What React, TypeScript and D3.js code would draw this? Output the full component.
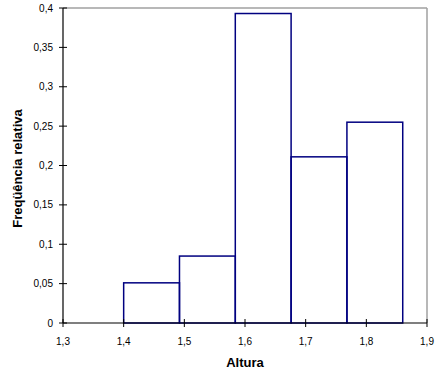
import React from "react";
import * as d3 from "d3";

const binEdges = [1.4, 1.492, 1.584, 1.676, 1.768, 1.86];
const relFreq = [0.051, 0.085, 0.393, 0.211, 0.255];
const xTicks = [1.3, 1.4, 1.5, 1.6, 1.7, 1.8, 1.9];
const yTicks = [0, 0.05, 0.1, 0.15, 0.2, 0.25, 0.3, 0.35, 0.4];
const xTitle = "Altura";
const yTitle = "Freqüência relativa";

const W = 436, H = 375;
const L = 63, R = 427, T = 8, B = 323;

const fmt = (v: number) => String(+v.toFixed(2)).replace(".", ",");

export default function App() {
  const x = d3.scaleLinear().domain([1.3, 1.9]).range([L, R]);
  const y = d3.scaleLinear().domain([0, 0.4]).range([B, T]);
  const font = "'Liberation Sans', Arial, sans-serif";
  return (
    <svg width={W} height={H} style={{ position: "absolute", left: 0, top: 0, background: "#fff" }} fontFamily={font}>
      <rect x={0} y={0} width={W} height={H} fill="#fff" />
      {/* plot frame top & right */}
      <line x1={L} x2={R} y1={T} y2={T} stroke="#a0a0a0" strokeWidth={1.5} />
      <line x1={R} x2={R} y1={T} y2={B} stroke="#a0a0a0" strokeWidth={1.5} />
      {/* bars */}
      {relFreq.map((v, i) => (
        <rect key={i} x={x(binEdges[i])} y={y(v)} width={x(binEdges[i + 1]) - x(binEdges[i])} height={y(0) - y(v)}
          fill="none" stroke="#000080" strokeWidth={1.5} />
      ))}
      {/* axes */}
      <line x1={L} x2={L} y1={T} y2={B} stroke="#000" strokeWidth={1.2} />
      <line x1={L} x2={R} y1={B} y2={B} stroke="#000" strokeWidth={1.2} />
      {yTicks.map((t) => (
        <g key={"y" + t}>
          <line x1={L - 4} x2={L + 4} y1={y(t)} y2={y(t)} stroke="#000" strokeWidth={1} />
          <text x={L - 10} y={y(t)} dy="0.35em" textAnchor="end" fontSize={10} fill="#000">{fmt(t)}</text>
        </g>
      ))}
      {xTicks.map((t) => (
        <g key={"x" + t}>
          <line x1={x(t)} x2={x(t)} y1={B - 4} y2={B + 4} stroke="#000" strokeWidth={1} />
          <text x={x(t)} y={341} dy="0.35em" textAnchor="middle" fontSize={10} fill="#000">{fmt(t)}</text>
        </g>
      ))}
      <text x={(L + R) / 2} y={362} dy="0.35em" textAnchor="middle" fontSize={13} fontWeight="bold">{xTitle}</text>
      <text transform={`translate(17,${(T + B) / 2 + 3}) rotate(-90)`} dy="0.35em" textAnchor="middle" fontSize={13} fontWeight="bold">{yTitle}</text>
    </svg>
  );
}
